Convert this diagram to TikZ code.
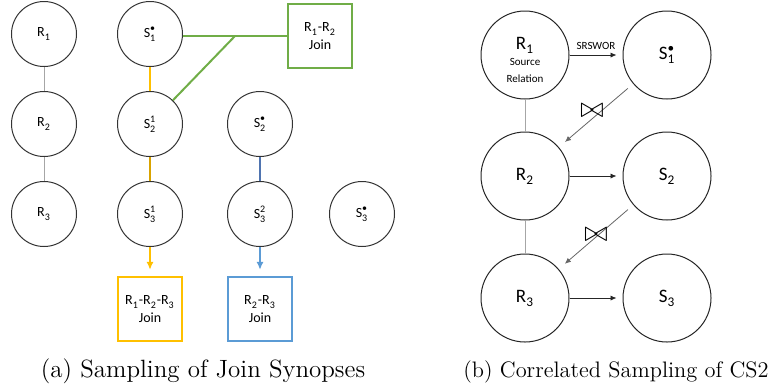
\documentclass[tikz,border=0pt]{standalone}
\usepackage{amsmath,amssymb}
\usepackage{fontspec}
\newfontfamily\calib{Carlito}
\usetikzlibrary{arrows.meta,positioning}
\definecolor{JoinGreen}{HTML}{70AD47}
\definecolor{JoinGold}{HTML}{FFC000}
\definecolor{JoinBlue}{HTML}{5B9BD5}
\definecolor{LinkBlue}{HTML}{4F74B0}
\definecolor{LinkGray}{HTML}{A6A6A6}
\newcommand{\relname}[3]{#1$_{\text{#2}}^{\text{#3}}$}

\begin{document}
\begin{tikzpicture}[x=0.5pt,y=-0.5pt,
    rel/.style={circle,draw=black!80,line width=.5pt,minimum size=32.5pt,inner sep=0pt,
                font=\calib\fontsize{7}{8}\selectfont},
    bigrel/.style={circle,draw=black!85,line width=.5pt,minimum size=44pt,inner sep=0pt,
                align=center,font=\calib\fontsize{9.5}{11}\selectfont},
    joinbox/.style={draw,line width=1.2pt,minimum size=32pt,inner sep=0pt,align=center,
                font=\calib\fontsize{7}{9}\selectfont},
    link/.style={line width=1pt},
    plain/.style={line width=.5pt,LinkGray},
    arr/.style={-{Latex[length=3pt,width=2.6pt]},line width=.4pt,shorten >=3pt},
    fatarr/.style={-{Latex[length=4pt,width=3.6pt]},line width=1pt,shorten >=3pt},
    subcap/.style={anchor=base}]
  \useasboundingbox (0,0) rectangle (769,387);
  % (a) join synopses
  \node[rel] (r1) at (44,34) {\relname{R}{1}{}};
  \node[rel] (r2) at (44,124) {\relname{R}{2}{}};
  \node[rel] (r3) at (44,214) {\relname{R}{3}{}};
  \node[rel] (s1) at (150,34) {\relname{S}{1}{\textbullet}};
  \node[rel] (s21) at (150,124) {\relname{S}{2}{1}};
  \node[rel] (s31) at (150,214) {\relname{S}{3}{1}};
  \node[rel] (s2s) at (260,124) {\relname{S}{2}{\textbullet}};
  \node[rel] (s32) at (260,214) {\relname{S}{3}{2}};
  \node[rel] (s3s) at (362,214) {\relname{S}{3}{\textbullet}};
  \node[joinbox,JoinGreen,text=black] (j12) at (320,36) {\relname{R}{1}{}-\relname{R}{2}{}\\Join};
  \node[joinbox,JoinGold,text=black] (j123) at (150,309) {\relname{R}{1}{}-\relname{R}{2}{}-\relname{R}{3}{}\\Join};
  \node[joinbox,JoinBlue,text=black] (j23) at (260,309) {\relname{R}{2}{}-\relname{R}{3}{}\\Join};
  \coordinate (fork) at (235,36);
  \draw[plain] (r1)--(r2);
  \draw[plain] (r2)--(r3);
  \draw[link,JoinGreen] (j12.west)--(j12.west -| s1.east);
  \draw[link,JoinGreen] (s21)--(fork);
  \draw[link,JoinGold] (s1)--(s21);
  \draw[link,JoinGold!85!black] (s21)--(s31);
  \draw[JoinGold,fatarr] (s31)--(j123);
  \draw[link,LinkBlue] (s2s)--(s32);
  \draw[JoinBlue,fatarr] (s32)--(j23);
  \node[subcap,font=\fontsize{12.5}{14}\selectfont] (capa) at (203,377) {(a) Sampling of Join Synopses};
  % (b) correlated sampling
  \node[bigrel,label={[align=center,yshift=-2.5pt,font=\calib\fontsize{9.5}{11}\selectfont]center:\relname{R}{1}{}\\[-3pt]{\fontsize{5.5}{6.5}\selectfont Source}\\[-2.5pt]{\fontsize{5.5}{6.5}\selectfont Relation}}] (br1) at (525,55) {};
  \node[bigrel] (bs1) at (667,55) {\relname{S}{1}{\textbullet}};
  \node[bigrel] (br2) at (525,176) {\relname{R}{2}{}};
  \node[bigrel] (bs2) at (667,176) {\relname{S}{2}{}};
  \node[bigrel] (br3) at (525,298) {\relname{R}{3}{}};
  \node[bigrel] (bs3) at (667,298) {\relname{S}{3}{}};
  \draw[plain] (br1)--(br2);
  \draw[plain] (br2)--(br3);
  \draw[arr,black!85] (br1)--node[above,text=black,font=\calib\fontsize{5.5}{6.5}\selectfont,yshift=-1pt] (srs) {SRSWOR} (bs1);
  \draw[arr,black!85] (br2)--(bs2);
  \draw[arr,black!85] (br3)--(bs3);
  \draw[arr,black!60,shorten <=3.5pt,shorten >=4pt] (bs1)--(br2);
  \draw[arr,black!60,shorten <=3.5pt,shorten >=4pt] (bs2)--(br3);
  \node[font=\fontsize{14}{14}\selectfont] (bt1) at (592,111) {$\bowtie$};
  \node[font=\fontsize{14}{14}\selectfont] (bt2) at (596,235) {$\bowtie$};
  \node[subcap,font=\fontsize{11.2}{13}\selectfont] (capb) at (616,377) {(b) Correlated Sampling of CS2};
\end{tikzpicture}
\end{document}
